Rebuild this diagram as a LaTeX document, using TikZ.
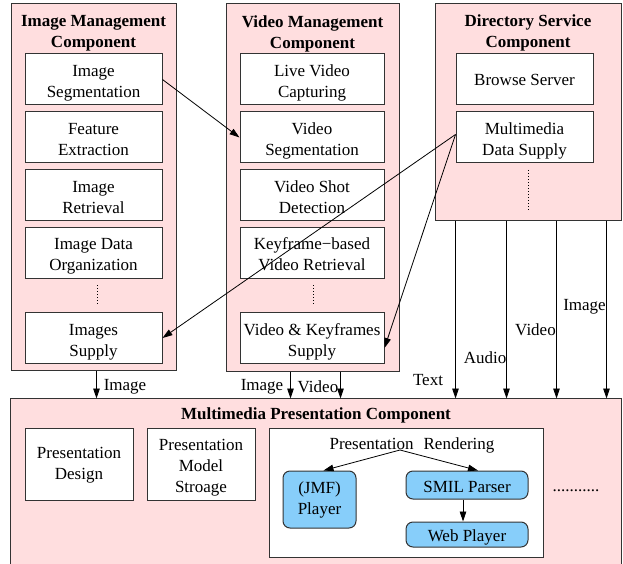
\documentclass[tikz,border=0pt]{standalone}
\usepackage{fontspec}
\setmainfont{Liberation Serif}
\usetikzlibrary{arrows.meta,calc}
\definecolor{pinkbg}{HTML}{FFDEDF}
\definecolor{skyb}{HTML}{87CEFA}
\definecolor{edge}{HTML}{333333}
\begin{document}
\begin{tikzpicture}[x=1pt,y=-1pt,
  txt/.style={font=\fontsize{17}{21}\selectfont, align=center, inner sep=0pt},
  title/.style={txt, font=\fontsize{17}{21}\selectfont\bfseries},
  comp/.style={draw=edge, fill=pinkbg, line width=1pt, inner sep=0pt},
  part/.style={txt, draw=edge, fill=white, line width=1pt, minimum width=137pt, minimum height=51pt, text height=36pt, text depth=0pt},
  vpart/.style={part, minimum width=144pt},
  play/.style={txt, draw=edge, fill=skyb, line width=1pt, rounded corners=7pt},
  arr/.style={line width=0.8pt, -{Triangle[length=10pt,width=6.5pt]}},
  dotcol/.style={line width=1pt, dash pattern=on 1pt off 2pt}]
\useasboundingbox (0,0) rectangle (623,564);

% component containers
\node[comp, minimum width=165pt, minimum height=366pt] (imc) at (93.5,187) {};
\node[comp, minimum width=173pt, minimum height=367pt] (vmc) at (312.5,187.5) {};
\node[comp, minimum width=186pt, minimum height=216pt] (dsc) at (528,112) {};
\node[comp, draw=none, minimum width=610pt, minimum height=165pt] (mpc) at (316,481.5) {};
\draw[line width=1pt, draw=edge] (mpc.south west) -- (mpc.north west) -- (mpc.north east) -- (mpc.south east);

% image management
\node[title] (imt) at (93.5,33.5) {Image Management\\Component};
\node[part] (imseg) at (93.5,79.5) {Image\\Segmentation};
\node[part] (feat) at (93.5,137.5) {Feature\\Extraction};
\node[part] (imret) at (93.5,195) {Image\\Retrieval};
\node[part] (imorg) at (93.5,252.5) {Image Data\\Organization};
\draw[dotcol] (97,285) -- (97,305);
\node[part] (imsup) at (93.5,338) {Images\\Supply};

% video management
\node[title] (vmt) at (312.5,33.5) {Video Management\\Component};
\node[vpart] (live) at (312,79.5) {Live Video\\Capturing};
\node[vpart] (vseg) at (312,137.5) {Video\\Segmentation};
\node[vpart] (shot) at (312,195) {Video Shot\\Detection};
\node[vpart] (kfr) at (312,252.5) {Keyframe−based\\Video Retrieval};
\draw[dotcol] (313,285) -- (313,305);
\node[vpart] (vksup) at (312,338) {Video \& Keyframes\\Supply};

% directory service
\node[title] (dst) at (528,33) {Directory Service\\Component};
\node[part, text height=13pt] (browse) at (524.5,79.5) {Browse Server};
\node[part] (mmd) at (524.5,137.5) {Multimedia\\Data Supply};
\draw[dotcol] (528,170) -- (528,211);

% multimedia presentation
\node[title] (mpt) at (316,415.5) {Multimedia Presentation Component};
\node[part, text height=31pt, minimum width=108pt, minimum height=72pt] (pd) at (79,464) {Presentation\\Design};
\node[part, text height=57pt, minimum width=108pt, minimum height=72pt] (pms) at (201,464) {Presentation\\Model\\Stroage};
\node[part, minimum width=274pt, minimum height=129pt] (rbox) at (406,492.5) {};
\node[txt] (rtext) at (412,445) {Presentation\hspace{10pt}Rendering};
\coordinate (split) at (400,450);
\node[play, minimum width=73pt, minimum height=57pt] (jmf) at (319.5,499.5) {(JMF)\\Player};
\node[play, text height=14.6pt, text depth=0pt, minimum width=122pt, minimum height=28pt] (smil) at (467,485) {SMIL Parser};
\node[play, text height=14.6pt, text depth=0pt, minimum width=122pt, minimum height=25pt] (web) at (467,534.5) {Web Player};
\node[txt] (more) at (576,490.5) {...........};
\draw[arr] (split) -- ([xshift=4pt]jmf.north);
\draw[arr] (split) -- ([xshift=11pt]smil.north);
\draw[arr] ([xshift=-4pt]smil.south) -- ([xshift=-4pt]web.north);

% data flow between components
\draw[arr] (imseg.east) -- (vseg.west);
\draw[arr] ([yshift=3pt]mmd.west) -- (imsup.east);
\draw[arr] ([yshift=3pt]mmd.west) -- ([yshift=-10pt]vksup.east);

\coordinate (a1) at ([xshift=86pt]imc.south west);
\coordinate (a2) at ([xshift=65pt]vmc.south west);
\coordinate (a3) at ([xshift=115pt]vmc.south west);
\coordinate (d1) at ([xshift=21pt]dsc.south west);
\coordinate (d2) at ([xshift=72pt]dsc.south west);
\coordinate (d3) at ([xshift=122pt]dsc.south west);
\coordinate (d4) at ([xshift=172pt]dsc.south west);
\foreach \p in {a1,a2,a3,d1,d2,d3,d4}
  \draw[arr] (\p) -- (\p |- mpc.north);

\node[txt] (la1) at (125,387) {Image};
\node[txt] (la2) at (262,387) {Image};
\node[txt] (la3) at (318,387) {Video};
\node[txt] (ld1) at (428,380) {Text};
\node[txt] (ld2) at (485,358) {Audio};
\node[txt] (ld3) at (535.5,330) {Video};
\node[txt] (ld4) at (584.5,307) {Image};
\end{tikzpicture}
\end{document}
